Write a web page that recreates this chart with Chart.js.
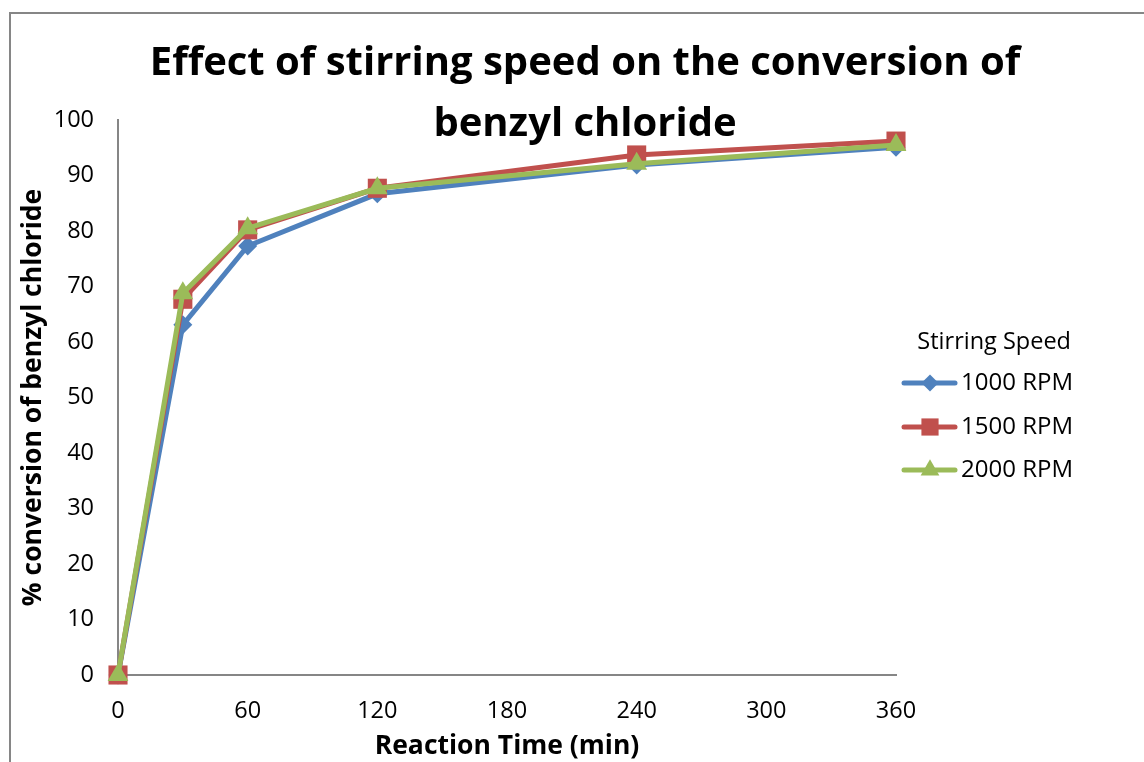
<!DOCTYPE html>
<html>
<head>
<meta charset="utf-8">
<script src="https://cdn.jsdelivr.net/npm/chart.js@4.4.1/dist/chart.umd.min.js"></script>
<style>
  html, body { margin: 0; padding: 0; background: #ffffff; }
  #wrap { position: relative; width: 1144px; height: 762px; }
</style>
</head>
<body>
<div id="wrap"><canvas id="c" width="1144" height="762"></canvas></div>
<script>
const times = [0, 30, 60, 120, 240, 360];
const rpm1000 = [0, 63.1, 77.3, 86.7, 91.9, 95.1];
const rpm1500 = [0, 67.7, 80.2, 87.7, 93.7, 96.2];
const rpm2000 = [0, 68.8, 80.5, 87.7, 92.1, 95.5];
const seriesNames = ['1000 RPM', '1500 RPM', '2000 RPM'];
const xTicks = [0, 60, 120, 180, 240, 300, 360];
const yTicks = [0, 10, 20, 30, 40, 50, 60, 70, 80, 90, 100];
const titleLines = ['Effect of stirring speed on the conversion of', 'benzyl chloride'];
const legendTitle = 'Stirring Speed';
const xTitle = 'Reaction Time (min)';
const yTitle = '% conversion of benzyl chloride';

const FONT = "'Open Sans', 'Liberation Sans', sans-serif";
const toPts = (ys) => times.map((t, i) => ({ x: t, y: ys[i] }));

const styles = [
  { color: '#4F81BD', pointStyle: 'rectRot', radius: 9.5, order: 3 },
  { color: '#C0504D', pointStyle: 'rect', radius: 13.5, order: 2 },
  { color: '#9BBB59', pointStyle: 'triangle', radius: 12, order: 1 }
];
const values = [rpm1000, rpm1500, rpm2000];

const datasets = values.map((v, i) => ({
  label: seriesNames[i],
  data: toPts(v),
  order: styles[i].order,
  borderColor: styles[i].color,
  backgroundColor: styles[i].color,
  borderWidth: 5,
  pointStyle: styles[i].pointStyle,
  pointRadius: styles[i].radius,
  pointHoverRadius: styles[i].radius,
  pointBorderWidth: 0,
  pointBackgroundColor: styles[i].color,
  tension: 0,
  fill: false,
  clip: false
}));

const framePlugin = {
  id: 'frame',
  beforeDraw(chart) {
    const ctx = chart.ctx;
    ctx.save();
    ctx.fillStyle = '#ffffff';
    ctx.fillRect(0, 0, chart.width, chart.height);
    ctx.strokeStyle = '#868686';
    ctx.lineWidth = 2;
    ctx.strokeRect(10, 13, 1200, 900);
    ctx.restore();
  },
  afterDraw(chart) {
    const ctx = chart.ctx;
    ctx.save();
    // Title
    ctx.fillStyle = '#000000';
    ctx.textAlign = 'center';
    ctx.textBaseline = 'middle';
    ctx.font = "bold 40px " + FONT;
    ctx.fillText(titleLines[0], 585, 64);
    ctx.fillText(titleLines[1], 585, 125);
    // Legend
    ctx.font = "23.5px " + FONT;
    ctx.textAlign = 'right';
    ctx.fillText(legendTitle, 1071, 342);
    const rows = [383, 427, 470];
    const legendItems = chart.data.datasets;
    legendItems.forEach((ds, i) => {
      const y = rows[i];
      ctx.strokeStyle = ds.borderColor;
      ctx.lineWidth = 5;
      ctx.lineCap = 'round';
      ctx.beginPath();
      ctx.moveTo(904, y);
      ctx.lineTo(955, y);
      ctx.stroke();
      ctx.fillStyle = ds.borderColor;
      Chart.helpers.drawPoint(ctx, {
        pointStyle: ds.pointStyle,
        radius: ds.pointRadius * 0.9,
        borderWidth: 0,
        rotation: 0
      }, 930, y);
      ctx.fillStyle = '#000000';
      ctx.textAlign = 'left';
      ctx.font = "24px " + FONT;
      ctx.fillText(ds.label, 961, y);
    });
    ctx.restore();
  }
};

new Chart(document.getElementById('c'), {
  type: 'line',
  data: { datasets },
  options: {
    responsive: false,
    animation: false,
    devicePixelRatio: 1,
    layout: { padding: { top: 120, right: 248, left: 0, bottom: 0 } },
    plugins: {
      legend: { display: false },
      title: { display: false },
      tooltip: { enabled: false }
    },
    scales: {
      x: {
        type: 'linear',
        min: 0, max: 360,
        afterBuildTicks(scale) { scale.ticks = xTicks.map(v => ({ value: v })); },
        afterFit(scale) { scale.height = 87; },
        grid: { display: false, drawTicks: false },
        border: { display: true, color: '#868686', width: 2 },
        ticks: { color: '#000', font: { family: FONT, size: 23.5 }, padding: 22, maxRotation: 0 },
        title: { display: true, text: xTitle, color: '#000', font: { family: FONT, size: 26.5, weight: 'bold' }, padding: { top: 0, bottom: 0 } }
      },
      y: {
        min: 0, max: 100,
        afterBuildTicks(scale) { scale.ticks = yTicks.map(v => ({ value: v })); },
        afterFit(scale) { scale.width = 118; },
        grid: { display: false, drawTicks: false },
        border: { display: true, color: '#868686', width: 2 },
        ticks: { color: '#000', font: { family: FONT, size: 23.5 }, padding: 24 },
        title: { display: true, text: yTitle, color: '#000', font: { family: FONT, size: 26.5, weight: 'bold' }, padding: { top: 18, bottom: 0 } }
      }
    }
  },
  plugins: [framePlugin]
});
</script>
</body>
</html>
